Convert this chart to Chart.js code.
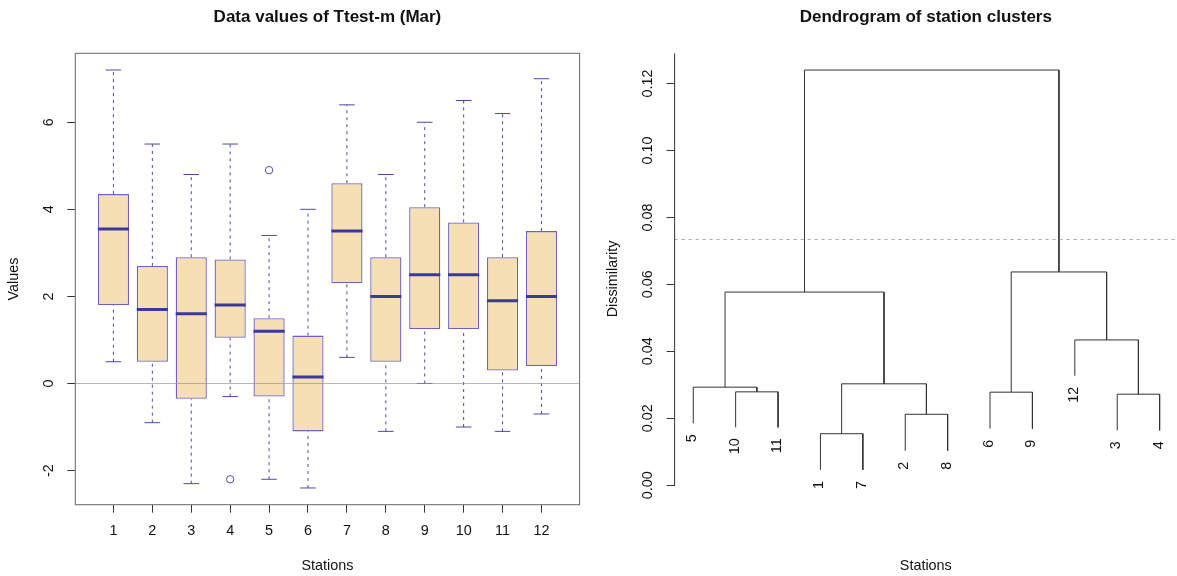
<!DOCTYPE html>
<html>
<head>
<meta charset="utf-8">
<script src="https://cdn.jsdelivr.net/npm/chart.js@4.4.1/dist/chart.umd.min.js"></script>
<style>
  html, body { margin: 0; padding: 0; background: #fff; }
  #left { position: absolute; left: 0; top: 0; }
  #right { position: absolute; left: 600px; top: 0; }
</style>
</head>
<body>
<canvas id="left" width="600" height="576"></canvas>
<canvas id="right" width="577" height="576"></canvas>
<script>
// ---- boxplot: Ttest-m (Mar), one box per station ----
const stations = [1, 2, 3, 4, 5, 6, 7, 8, 9, 10, 11, 12];
const lowerWhisker = [0.5, -0.9, -2.3, -0.3, -2.2, -2.4, 0.6, -1.1, 0.0, -1.0, -1.1, -0.7];
const q1 = [1.8, 0.5, -0.35, 1.05, -0.3, -1.1, 2.3, 0.5, 1.25, 1.25, 0.3, 0.4];
const median = [3.55, 1.7, 1.6, 1.8, 1.2, 0.15, 3.5, 2.0, 2.5, 2.5, 1.9, 2.0];
const q3 = [4.35, 2.7, 2.9, 2.85, 1.5, 1.1, 4.6, 2.9, 4.05, 3.7, 2.9, 3.5];
const upperWhisker = [7.2, 5.5, 4.8, 5.5, 3.4, 4.0, 6.4, 4.8, 6.0, 6.5, 6.2, 7.0];
const outlierStation = [4, 5];
const outlierValue = [-2.2, 4.9];
const valueTicks = [-2, 0, 2, 4, 6];

// ---- dendrogram of station clusters ----
const leafLabels = ['5', '10', '11', '1', '7', '2', '8', '6', '9', '12', '3', '4'];
const leafTips = [0.0185, 0.0173, 0.0173, 0.0046, 0.0046, 0.0103, 0.0103, 0.0169, 0.0169, 0.0327, 0.0164, 0.0164];
// R hclust style merges: negative = leaf position, positive = earlier merge
const mergeLeft = [-4, -6, -11, -8, -2, -1, 1, -10, 6, 4, 9];
const mergeRight = [-5, -7, -12, -9, -3, 5, 2, 3, 7, 8, 10];
const mergeHeight = [0.0154, 0.0212, 0.0272, 0.0278, 0.0279, 0.0293, 0.0303, 0.0434, 0.0577, 0.0637, 0.1240];
const cutHeight = 0.0734;
const dissimTicks = [0, 0.02, 0.04, 0.06, 0.08, 0.10, 0.12];

const FONT = '"Liberation Sans", Arial, Helvetica, sans-serif';
Chart.defaults.font.family = FONT;
Chart.defaults.color = '#111';
Chart.defaults.animation = false;

// segments for whiskers, staples and medians
const gap = x => ({ x: x, y: null });
const whiskerPts = [], staplePts = [], medianPts = [];
stations.forEach((s, i) => {
  whiskerPts.push({ x: s, y: q3[i] }, { x: s, y: upperWhisker[i] }, gap(s));
  whiskerPts.push({ x: s, y: lowerWhisker[i] }, { x: s, y: q1[i] }, gap(s));
  staplePts.push({ x: s - 0.2, y: upperWhisker[i] }, { x: s + 0.2, y: upperWhisker[i] }, gap(s));
  staplePts.push({ x: s - 0.2, y: lowerWhisker[i] }, { x: s + 0.2, y: lowerWhisker[i] }, gap(s));
  medianPts.push({ x: s - 0.4, y: median[i] }, { x: s + 0.4, y: median[i] }, gap(s));
});

const plotBox = {
  id: 'plotBox',
  afterDatasetsDraw(chart) {
    const { ctx, chartArea: a, scales: { y } } = chart;
    const y0 = y.getPixelForValue(0);
    ctx.save();
    ctx.strokeStyle = 'rgba(150,150,150,0.7)';
    ctx.lineWidth = 1;
    ctx.beginPath();
    ctx.moveTo(a.left, y0);
    ctx.lineTo(a.right, y0);
    ctx.stroke();
    ctx.strokeStyle = '#666';
    ctx.strokeRect(a.left, a.top, a.right - a.left, a.bottom - a.top);
    ctx.restore();
  }
};

new Chart(document.getElementById('left'), {
  type: 'bar',
  data: {
    datasets: [
      {
        type: 'line', data: medianPts, borderColor: '#3a3a9c', borderWidth: 3,
        pointRadius: 0, spanGaps: false, order: 1
      },
      {
        type: 'bar', data: stations.map((s, i) => ({ x: s, y: [q1[i], q3[i]] })),
        backgroundColor: '#f6dfb4', borderColor: '#6d62c2', borderWidth: 1.3,
        borderSkipped: false, barPercentage: 0.8, categoryPercentage: 1, order: 2
      },
      {
        type: 'line', data: whiskerPts, borderColor: '#4a4aa0', borderWidth: 1,
        borderDash: [3, 4], pointRadius: 0, spanGaps: false, order: 3
      },
      {
        type: 'line', data: staplePts, borderColor: '#4a4aa0', borderWidth: 1,
        pointRadius: 0, spanGaps: false, order: 3
      },
      {
        type: 'scatter', data: outlierStation.map((s, i) => ({ x: s, y: outlierValue[i] })),
        pointRadius: 3.7, pointBorderWidth: 1, pointBorderColor: '#4a4aa8',
        pointBackgroundColor: 'rgba(0,0,0,0)', order: 1
      }
    ]
  },
  options: {
    responsive: false,
    layout: { padding: { left: 0, right: 20.4, top: 0, bottom: 0 } },
    plugins: {
      legend: { display: false },
      tooltip: { enabled: false },
      title: {
        display: true, text: 'Data values of Ttest-m (Mar)', fullSize: false,
        font: { size: 17, weight: 'bold' }, color: '#111',
        padding: { top: 7.1, bottom: 25.8 }
      }
    },
    scales: {
      x: {
        type: 'linear', min: 0.02, max: 12.98, offset: false,
        afterBuildTicks: s => { s.ticks = stations.map(v => ({ value: v })); },
        afterFit: s => { s.height = 71.3; },
        grid: { display: true, offset: false, drawOnChartArea: false, tickLength: 8, color: '#333' },
        border: { display: false },
        ticks: { autoSkip: false, maxRotation: 0, padding: 9.5, font: { size: 14.4 } },
        title: { display: true, text: 'Stations', font: { size: 14.4 }, padding: { top: 0, bottom: 1 } }
      },
      y: {
        min: -2.784, max: 7.584,
        afterBuildTicks: s => { s.ticks = valueTicks.map(v => ({ value: v })); },
        afterFit: s => { s.width = 75.3; },
        grid: { display: true, drawOnChartArea: false, tickLength: 8, color: '#333' },
        border: { display: false },
        ticks: { minRotation: 90, maxRotation: 90, crossAlign: 'center', padding: 11.9, font: { size: 14.4 } },
        title: { display: true, text: 'Values', font: { size: 14.4 }, padding: { top: 4.9, bottom: 0 } }
      }
    }
  },
  plugins: [plotBox]
});

// dendrogram segments built from the merge table
const nodeX = [];
const childPos = c => c < 0 ? { x: -c, y: leafTips[-c - 1] } : { x: nodeX[c - 1], y: mergeHeight[c - 1] };
const dendroPts = [];
mergeLeft.forEach((l, k) => {
  const a = childPos(l), b = childPos(mergeRight[k]), h = mergeHeight[k];
  nodeX.push((a.x + b.x) / 2);
  dendroPts.push({ x: a.x, y: a.y }, { x: a.x, y: h }, { x: b.x, y: h }, { x: b.x, y: b.y }, gap(b.x));
});

const dendroExtras = {
  id: 'dendroExtras',
  afterDatasetsDraw(chart) {
    const { ctx, chartArea: a, scales: { x, y } } = chart;
    ctx.save();
    // cut height
    const yc = y.getPixelForValue(cutHeight);
    ctx.strokeStyle = '#aaa';
    ctx.lineWidth = 1;
    ctx.setLineDash([3, 4]);
    ctx.beginPath();
    ctx.moveTo(a.left, yc);
    ctx.lineTo(a.right, yc);
    ctx.stroke();
    // axis line (0 up to top of plot)
    ctx.setLineDash([]);
    ctx.strokeStyle = '#333';
    ctx.beginPath();
    ctx.moveTo(a.left, y.getPixelForValue(0));
    ctx.lineTo(a.left, a.top);
    ctx.stroke();
    // leaf labels
    ctx.fillStyle = '#111';
    ctx.font = '14.4px ' + FONT;
    ctx.textAlign = 'right';
    ctx.textBaseline = 'middle';
    leafLabels.forEach((lab, i) => {
      ctx.save();
      ctx.translate(x.getPixelForValue(i + 1) - 1, y.getPixelForValue(leafTips[i]) + 11);
      ctx.rotate(-Math.PI / 2);
      ctx.fillText(lab, 0, 0);
      ctx.restore();
    });
    ctx.restore();
  }
};

new Chart(document.getElementById('right'), {
  type: 'line',
  data: {
    datasets: [{
      data: dendroPts, borderColor: '#333', borderWidth: 1,
      pointRadius: 0, spanGaps: false, tension: 0
    }]
  },
  options: {
    responsive: false,
    layout: { padding: 0 },
    plugins: {
      legend: { display: false },
      tooltip: { enabled: false },
      title: {
        display: true, text: 'Dendrogram of station clusters', fullSize: false,
        font: { size: 17, weight: 'bold' }, color: '#111',
        padding: { top: 7.1, bottom: 25.8 }
      }
    },
    scales: {
      x: {
        type: 'linear', min: 0.56, max: 12.41,
        afterFit: s => { s.height = 71.3; },
        grid: { display: false },
        border: { display: false },
        ticks: { display: false },
        title: { display: true, text: 'Stations', font: { size: 14.4 }, padding: { top: 0, bottom: 1 } }
      },
      y: {
        min: -0.0058, max: 0.129,
        afterBuildTicks: s => { s.ticks = dissimTicks.map(v => ({ value: v })); },
        afterFit: s => { s.width = 74.6; },
        grid: { display: true, drawOnChartArea: false, tickLength: 8, color: '#333' },
        border: { display: false },
        ticks: {
          minRotation: 90, maxRotation: 90, crossAlign: 'center', padding: 4.3,
          font: { size: 14.4 }, callback: v => v.toFixed(2)
        },
        title: { display: true, text: 'Dissimilarity', font: { size: 14.4 }, padding: { top: 4.7, bottom: 0 } }
      }
    }
  },
  plugins: [dendroExtras]
});
</script>
</body>
</html>
